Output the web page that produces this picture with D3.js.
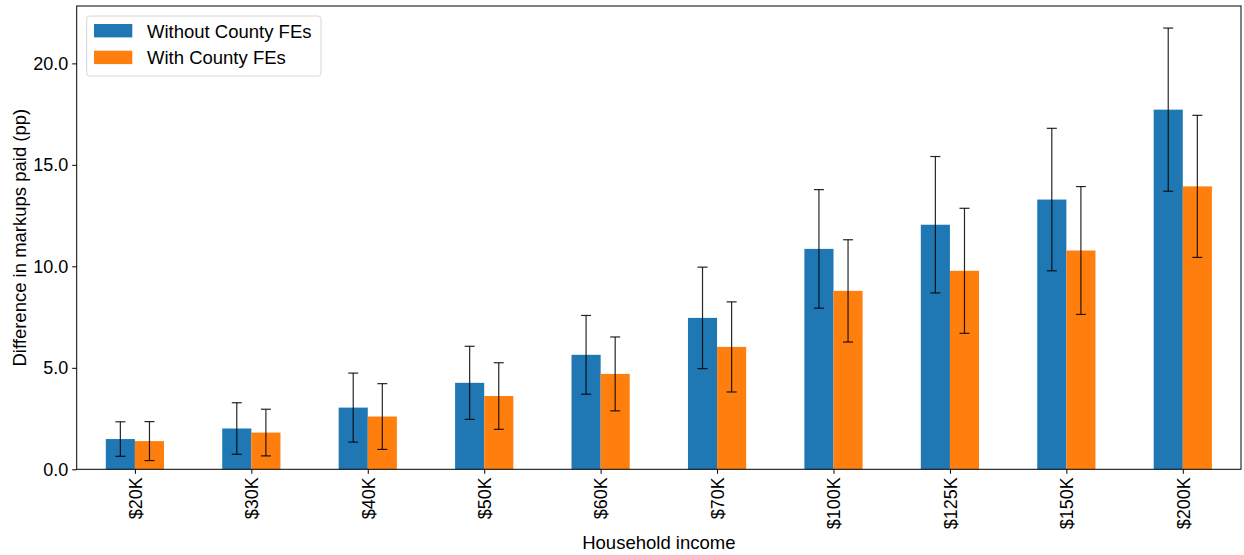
<!DOCTYPE html>
<html>
<head>
<meta charset="utf-8">
<script src="https://cdn.jsdelivr.net/npm/d3@7"></script>
<style>
  html, body { margin: 0; padding: 0; background: #fff; }
  svg { display: block; font-family: "Liberation Sans", Arial, sans-serif; }
</style>
</head>
<body>
<svg id="chart" width="1244" height="555"></svg>
<script>
const categories = ["$20K", "$30K", "$40K", "$50K", "$60K", "$70K", "$100K", "$125K", "$150K", "$200K"];
const seriesNames = ["Without County FEs", "With County FEs"];
const withoutFE = [1.49, 2.01, 3.04, 4.26, 5.64, 7.46, 10.86, 12.05, 13.29, 17.72];
const withoutFEErr = [0.85, 1.27, 1.70, 1.80, 1.94, 2.50, 2.92, 3.36, 3.51, 4.02];
const withFE = [1.39, 1.81, 2.60, 3.61, 4.70, 6.03, 8.79, 9.78, 10.78, 13.94];
const withFEErr = [0.96, 1.15, 1.62, 1.64, 1.82, 2.22, 2.52, 3.08, 3.15, 3.50];
const yTicks = [0, 5, 10, 15, 20];
const colors = ["#1f77b4", "#ff7f0e"];

const svg = d3.select("#chart");
const L = 76.7, R = 1241, T = 6, B = 469.3;
const FS = 18;

const x = d3.scaleLinear().domain([-0.5, categories.length - 0.5]).range([L, R]);
const allTop = d3.max([
  ...withoutFE.map((v, i) => v + withoutFEErr[i]),
  ...withFE.map((v, i) => v + withFEErr[i])
]);
const y = d3.scaleLinear().domain([0, allTop * 1.05]).range([B, T]);

const series = [
  { name: seriesNames[0], values: withoutFE, err: withoutFEErr, offset: -0.25, color: colors[0] },
  { name: seriesNames[1], values: withFE, err: withFEErr, offset: 0, color: colors[1] }
];
const barW = 0.25;

// bars
series.forEach(s => {
  svg.append("g").selectAll("rect").data(s.values).join("rect")
    .attr("x", (d, i) => x(i + s.offset))
    .attr("width", (d, i) => x(i + s.offset + barW) - x(i + s.offset))
    .attr("y", d => y(d))
    .attr("height", d => y(0) - y(d))
    .attr("fill", s.color);
});

// error bars
series.forEach(s => {
  const g = svg.append("g").attr("stroke", "#000").attr("stroke-width", 1.2).attr("stroke-opacity", 0.85);
  s.values.forEach((v, i) => {
    const cx = x(i + s.offset + barW / 2);
    const lo = y(v - s.err[i]), hi = y(v + s.err[i]);
    g.append("line").attr("x1", cx).attr("x2", cx).attr("y1", lo).attr("y2", hi);
    g.append("line").attr("x1", cx - 5).attr("x2", cx + 5).attr("y1", lo).attr("y2", lo);
    g.append("line").attr("x1", cx - 5).attr("x2", cx + 5).attr("y1", hi).attr("y2", hi);
  });
});

// y axis
const yAxis = d3.axisLeft(y).tickValues(yTicks).tickFormat(d3.format(".1f")).tickSize(4.5).tickPadding(4);
const gy = svg.append("g").attr("transform", `translate(${L},0)`).call(yAxis);
gy.select(".domain").remove();
gy.selectAll("line").attr("stroke", "#000").attr("stroke-width", 1);
gy.selectAll("text").attr("font-size", FS).attr("fill", "#000").attr("font-family", "Liberation Sans, Arial, sans-serif");

// x axis
const xAxis = d3.axisBottom(x).tickValues(d3.range(categories.length)).tickFormat(i => categories[i]).tickSize(4.5);
const gx = svg.append("g").attr("transform", `translate(0,${B})`).call(xAxis);
gx.select(".domain").remove();
gx.selectAll("line").attr("stroke", "#000").attr("stroke-width", 1);
gx.selectAll("text")
  .attr("font-size", FS).attr("fill", "#000").attr("font-family", "Liberation Sans, Arial, sans-serif")
  .attr("text-anchor", "end")
  .attr("transform", "translate(0,8) rotate(-90)")
  .attr("x", 0).attr("y", 0).attr("dy", "0.35em");

// frame
svg.append("rect").attr("x", L).attr("y", T).attr("width", R - L).attr("height", B - T)
  .attr("fill", "none").attr("stroke", "#000").attr("stroke-width", 1);

// axis labels
svg.append("text").attr("x", (L + R) / 2).attr("y", 549).attr("text-anchor", "middle")
  .attr("font-size", 18.5).attr("fill", "#000").text("Household income");
svg.append("text").attr("transform", `translate(26,${(T + B) / 2}) rotate(-90)`).attr("text-anchor", "middle")
  .attr("font-size", 18.5).attr("fill", "#000").text("Difference in markups paid (pp)");

// legend
const lg = svg.append("g");
lg.append("rect").attr("x", 86.7).attr("y", 16).attr("width", 234.3).attr("height", 60).attr("rx", 3)
  .attr("fill", "#fff").attr("fill-opacity", 0.8).attr("stroke", "#d6d6d6").attr("stroke-width", 1);
series.forEach((s, k) => {
  lg.append("rect").attr("x", 94).attr("y", 24 + k * 26.7).attr("width", 38.3).attr("height", 13.4).attr("fill", s.color);
  lg.append("text").attr("x", 147).attr("y", 37.5 + k * 26.7).attr("font-size", 18.5).attr("fill", "#000").text(s.name);
});
</script>
</body>
</html>
